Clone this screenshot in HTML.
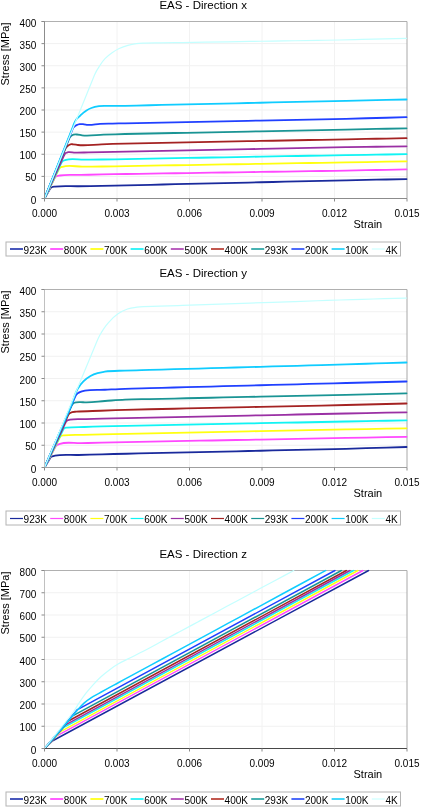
<!DOCTYPE html><html><head><meta charset="utf-8"><title>EAS stress-strain</title><style>
html,body{margin:0;padding:0;background:#fff;}body{width:421px;height:811px;overflow:hidden;}
svg{display:block;font-family:"Liberation Sans", sans-serif;will-change:transform;}
</style></head><body>
<svg width="421" height="811" viewBox="0 0 421 811">
<defs>
<clipPath id="clip0"><rect x="44.5" y="20.5" width="363.5" height="178.0"/></clipPath>
<clipPath id="clip1"><rect x="44.5" y="288.5" width="363.5" height="179.0"/></clipPath>
<clipPath id="clip2"><rect x="44.5" y="569.5" width="363.5" height="179.0"/></clipPath>
</defs>
<rect width="421" height="811" fill="#fff"/>
<text x="203.2" y="8.9" font-size="11.5" text-anchor="middle" fill="#000">EAS - Direction x</text>
<line x1="44.5" y1="176.38" x2="407.0" y2="176.38" stroke="#f1f1f1" stroke-width="1"/>
<line x1="44.5" y1="154.25" x2="407.0" y2="154.25" stroke="#f1f1f1" stroke-width="1"/>
<line x1="44.5" y1="132.12" x2="407.0" y2="132.12" stroke="#f1f1f1" stroke-width="1"/>
<line x1="44.5" y1="110.00" x2="407.0" y2="110.00" stroke="#f1f1f1" stroke-width="1"/>
<line x1="44.5" y1="87.88" x2="407.0" y2="87.88" stroke="#f1f1f1" stroke-width="1"/>
<line x1="44.5" y1="65.75" x2="407.0" y2="65.75" stroke="#f1f1f1" stroke-width="1"/>
<line x1="44.5" y1="43.62" x2="407.0" y2="43.62" stroke="#f1f1f1" stroke-width="1"/>
<line x1="117.00" y1="21.5" x2="117.00" y2="198.5" stroke="#f2f2f2" stroke-width="1"/>
<line x1="189.50" y1="21.5" x2="189.50" y2="198.5" stroke="#f2f2f2" stroke-width="1"/>
<line x1="262.00" y1="21.5" x2="262.00" y2="198.5" stroke="#f2f2f2" stroke-width="1"/>
<line x1="334.50" y1="21.5" x2="334.50" y2="198.5" stroke="#f2f2f2" stroke-width="1"/>
<line x1="41.5" y1="21.5" x2="407.0" y2="21.5" stroke="#b0b0b0" stroke-width="1"/>
<line x1="407.0" y1="21.5" x2="407.0" y2="198.5" stroke="#a8a8a8" stroke-width="1"/>
<g clip-path="url(#clip0)" fill="none" stroke-linejoin="round" stroke-linecap="round">
<path d="M44.50,198.50 L50.30,188.20 C50.67,187.55 51.50,187.28 52.20,187.00 C53.08,186.65 54.06,186.72 55.00,186.60 C62.77,185.60 70.67,186.37 78.50,186.25 C86.33,186.13 94.17,186.05 102.00,185.90 C110.13,185.75 118.27,185.53 126.40,185.34 C134.53,185.15 142.67,184.97 150.80,184.78 C158.93,184.59 167.07,184.41 175.20,184.22 C183.33,184.03 191.47,183.85 199.60,183.66 C207.73,183.47 215.87,183.29 224.00,183.10 C232.13,182.91 240.27,182.73 248.40,182.54 C256.53,182.35 264.67,182.17 272.80,181.98 C280.93,181.79 289.07,181.61 297.20,181.42 C305.33,181.23 313.47,181.05 321.60,180.86 C329.73,180.67 337.87,180.47 346.00,180.30 C352.72,180.16 359.44,180.03 366.17,179.90 C372.89,179.77 379.61,179.63 386.33,179.50 C393.06,179.37 399.78,179.23 406.50,179.10" stroke="#1a2a9c" stroke-width="1.8"/>
<path d="M44.50,198.50 L54.40,178.50 C54.86,177.57 55.70,176.82 56.60,176.30 C57.61,175.72 58.86,175.73 60.00,175.50 C66.86,174.10 74.00,175.13 81.00,174.95 C88.00,174.77 95.00,174.55 102.00,174.40 C110.13,174.23 118.27,174.15 126.40,174.02 C134.53,173.89 142.67,173.77 150.80,173.64 C158.93,173.51 167.07,173.39 175.20,173.26 C183.33,173.13 191.47,173.01 199.60,172.88 C207.73,172.75 215.87,172.63 224.00,172.50 C232.13,172.37 240.27,172.25 248.40,172.12 C256.53,171.99 264.67,171.87 272.80,171.74 C280.93,171.61 289.07,171.49 297.20,171.36 C305.33,171.23 313.47,171.11 321.60,170.98 C329.73,170.85 337.87,170.75 346.00,170.60 C352.72,170.48 359.44,170.33 366.17,170.20 C372.89,170.07 379.61,169.93 386.33,169.80 C393.06,169.67 399.78,169.53 406.50,169.40" stroke="#ff48ff" stroke-width="1.8"/>
<path d="M44.50,198.50 L58.20,170.50 C58.72,169.43 59.30,168.26 60.30,167.60 C60.95,167.17 61.76,167.04 62.50,166.80 C68.76,164.77 75.67,166.70 82.25,166.65 C88.83,166.60 95.42,166.58 102.00,166.50 C110.13,166.40 118.27,166.23 126.40,166.09 C134.53,165.95 142.67,165.82 150.80,165.68 C158.93,165.54 167.07,165.41 175.20,165.27 C183.33,165.13 191.47,165.00 199.60,164.86 C207.73,164.72 215.87,164.59 224.00,164.45 C232.13,164.31 240.27,164.18 248.40,164.04 C256.53,163.90 264.67,163.77 272.80,163.63 C280.93,163.49 289.07,163.36 297.20,163.22 C305.33,163.08 313.47,162.95 321.60,162.81 C329.73,162.67 337.87,162.54 346.00,162.40 C352.72,162.28 359.44,162.16 366.17,162.03 C372.89,161.91 379.61,161.79 386.33,161.67 C393.06,161.54 399.78,161.42 406.50,161.30" stroke="#ffff10" stroke-width="1.8"/>
<path d="M44.50,198.50 L61.00,163.50 C61.49,162.47 62.16,161.45 63.10,160.80 C63.94,160.22 65.02,160.09 66.00,159.80 C71.76,158.11 78.00,159.70 84.00,159.65 C90.00,159.60 96.00,159.57 102.00,159.50 C110.13,159.40 118.27,159.21 126.40,159.06 C134.53,158.91 142.67,158.77 150.80,158.62 C158.93,158.47 167.07,158.33 175.20,158.18 C183.33,158.03 191.47,157.89 199.60,157.74 C207.73,157.59 215.87,157.45 224.00,157.30 C232.13,157.15 240.27,157.01 248.40,156.86 C256.53,156.71 264.67,156.57 272.80,156.42 C280.93,156.27 289.07,156.13 297.20,155.98 C305.33,155.83 313.47,155.69 321.60,155.54 C329.73,155.39 337.87,155.23 346.00,155.10 C352.72,154.99 359.44,154.90 366.17,154.80 C372.89,154.70 379.61,154.60 386.33,154.50 C393.06,154.40 399.78,154.30 406.50,154.20" stroke="#10f4f4" stroke-width="1.8"/>
<path d="M44.50,198.50 L63.80,156.00 C64.29,154.92 64.73,153.67 65.70,153.00 C66.37,152.54 67.21,152.39 68.00,152.20 C70.27,151.66 72.66,152.53 75.00,152.60 C79.50,152.74 84.00,152.43 88.50,152.35 C93.00,152.27 97.50,152.19 102.00,152.10 C110.13,151.94 118.27,151.77 126.40,151.61 C134.53,151.45 142.67,151.28 150.80,151.12 C158.93,150.96 167.07,150.79 175.20,150.63 C183.33,150.47 191.47,150.30 199.60,150.14 C207.73,149.98 215.87,149.81 224.00,149.65 C232.13,149.49 240.27,149.32 248.40,149.16 C256.53,149.00 264.67,148.83 272.80,148.67 C280.93,148.51 289.07,148.34 297.20,148.18 C305.33,148.02 313.47,147.85 321.60,147.69 C329.73,147.53 337.87,147.34 346.00,147.20 C352.72,147.08 359.44,147.00 366.17,146.90 C372.89,146.80 379.61,146.70 386.33,146.60 C393.06,146.50 399.78,146.40 406.50,146.30" stroke="#9a30a4" stroke-width="1.8"/>
<path d="M44.50,198.50 L65.30,149.00 C65.78,147.86 66.57,146.82 67.50,146.00 C68.37,145.24 69.38,144.55 70.50,144.30 C71.31,144.12 72.17,144.26 73.00,144.30 C74.68,144.38 76.33,144.82 78.00,145.00 C85.79,145.85 93.67,144.53 101.50,144.30 C109.33,144.07 117.17,143.79 125.00,143.60 C133.18,143.40 141.37,143.28 149.56,143.12 C157.74,142.96 165.93,142.80 174.11,142.64 C182.30,142.49 190.48,142.33 198.67,142.17 C206.85,142.01 215.04,141.85 223.22,141.69 C231.41,141.53 239.59,141.37 247.78,141.21 C255.96,141.05 264.15,140.89 272.33,140.73 C280.52,140.57 288.70,140.41 296.89,140.26 C305.07,140.10 313.26,139.94 321.44,139.78 C329.63,139.62 337.81,139.45 346.00,139.30 C352.72,139.17 359.44,139.06 366.17,138.93 C372.89,138.81 379.61,138.69 386.33,138.57 C393.06,138.44 399.78,138.32 406.50,138.20" stroke="#a42222" stroke-width="1.8"/>
<path d="M44.50,198.50 L69.20,138.60 C69.59,137.65 70.23,136.78 71.00,136.10 C71.72,135.47 72.59,134.99 73.50,134.70 C74.61,134.35 75.83,134.46 77.00,134.50 C78.69,134.55 80.32,135.09 82.00,135.30 C89.12,136.18 96.33,134.87 103.50,134.65 C110.67,134.43 117.83,134.18 125.00,134.00 C133.18,133.79 141.37,133.67 149.56,133.51 C157.74,133.35 165.93,133.19 174.11,133.02 C182.30,132.86 190.48,132.70 198.67,132.53 C206.85,132.37 215.04,132.21 223.22,132.04 C231.41,131.88 239.59,131.72 247.78,131.56 C255.96,131.39 264.15,131.23 272.33,131.07 C280.52,130.90 288.70,130.74 296.89,130.58 C305.07,130.41 313.26,130.25 321.44,130.09 C329.63,129.93 337.81,129.77 346.00,129.60 C352.72,129.46 359.44,129.31 366.17,129.17 C372.89,129.02 379.61,128.88 386.33,128.73 C393.06,128.59 399.78,128.44 406.50,128.30" stroke="#1a9494" stroke-width="1.8"/>
<path d="M44.50,198.50 L72.90,128.40 C73.21,127.63 73.88,127.05 74.50,126.50 C75.13,125.94 75.85,125.48 76.60,125.10 C77.57,124.61 78.63,124.27 79.70,124.10 C81.12,123.87 82.57,124.16 84.00,124.30 C85.21,124.42 86.39,124.69 87.60,124.80 C91.73,125.17 95.86,124.01 100.00,123.80 C104.16,123.59 108.33,123.63 112.50,123.55 C116.67,123.47 120.83,123.38 125.00,123.30 C133.19,123.14 141.37,122.97 149.56,122.80 C157.74,122.63 165.93,122.47 174.11,122.30 C182.30,122.13 190.48,121.97 198.67,121.80 C206.85,121.63 215.04,121.47 223.22,121.30 C231.41,121.13 239.59,120.97 247.78,120.80 C255.96,120.63 264.15,120.47 272.33,120.30 C280.52,120.13 288.70,119.97 296.89,119.80 C305.07,119.63 313.26,119.47 321.44,119.30 C329.63,119.13 337.82,118.99 346.00,118.80 C352.72,118.64 359.44,118.44 366.17,118.27 C372.89,118.09 379.61,117.91 386.33,117.73 C393.06,117.56 399.78,117.38 406.50,117.20" stroke="#2040ff" stroke-width="1.8"/>
<path d="M44.50,198.50 L72.60,127.50 C73.24,125.87 73.73,124.17 74.50,122.60 C75.11,121.35 75.74,120.09 76.60,119.00 C77.56,117.77 78.86,116.86 80.00,115.80 C81.16,114.72 82.27,113.59 83.50,112.60 C84.46,111.82 85.45,111.06 86.50,110.40 C88.04,109.43 89.70,108.66 91.40,108.00 C93.84,107.06 96.42,106.51 99.00,106.10 C103.28,105.42 107.67,106.00 112.00,105.95 C116.33,105.90 120.67,105.87 125.00,105.80 C133.19,105.67 141.37,105.43 149.56,105.24 C157.74,105.06 165.93,104.87 174.11,104.69 C182.30,104.50 190.48,104.32 198.67,104.13 C206.85,103.95 215.04,103.76 223.22,103.58 C231.41,103.39 239.59,103.21 247.78,103.02 C255.96,102.84 264.15,102.65 272.33,102.47 C280.52,102.28 288.70,102.10 296.89,101.91 C305.07,101.73 313.26,101.54 321.44,101.36 C329.63,101.17 337.81,100.98 346.00,100.80 C352.72,100.65 359.44,100.51 366.17,100.37 C372.89,100.22 379.61,100.08 386.33,99.93 C393.06,99.79 399.78,99.64 406.50,99.50" stroke="#10ccff" stroke-width="1.8"/>
<path d="M44.50,198.50 L94.50,75.00 C95.82,71.75 97.68,68.73 99.60,65.80 C101.24,63.29 102.94,60.78 105.00,58.60 C107.12,56.37 109.58,54.46 112.10,52.70 C114.35,51.13 116.72,49.69 119.20,48.50 C121.98,47.16 124.92,46.13 127.90,45.30 C130.65,44.53 133.47,43.97 136.30,43.60 C139.18,43.23 142.10,43.22 145.00,43.10 C150.00,42.89 155.00,42.97 160.00,42.90 C167.50,42.79 175.00,42.66 182.50,42.54 C190.00,42.42 197.50,42.30 205.00,42.17 C212.50,42.05 220.00,41.93 227.50,41.81 C235.00,41.69 242.50,41.57 250.00,41.45 C257.50,41.33 265.00,41.21 272.50,41.09 C280.00,40.97 287.50,40.85 295.00,40.73 C302.50,40.60 310.00,40.48 317.50,40.36 C325.00,40.24 332.50,40.16 340.00,40.00 C347.39,39.85 354.78,39.62 362.17,39.43 C369.56,39.24 376.94,39.06 384.33,38.87 C391.72,38.68 399.11,38.49 406.50,38.30" stroke="#c4ffff" stroke-width="1.2"/>
</g>
<line x1="44.5" y1="21.5" x2="44.5" y2="198.5" stroke="#8c8c8c" stroke-width="1"/>
<line x1="44.5" y1="198.5" x2="407.0" y2="198.5" stroke="#8c8c8c" stroke-width="1"/>
<line x1="41.5" y1="198.50" x2="44.5" y2="198.50" stroke="#8a8a8a" stroke-width="1"/>
<text x="36.3" y="203.60" font-size="10" text-anchor="end" fill="#000">0</text>
<line x1="41.5" y1="176.38" x2="44.5" y2="176.38" stroke="#8a8a8a" stroke-width="1"/>
<text x="36.3" y="181.47" font-size="10" text-anchor="end" fill="#000">50</text>
<line x1="41.5" y1="154.25" x2="44.5" y2="154.25" stroke="#8a8a8a" stroke-width="1"/>
<text x="36.3" y="159.35" font-size="10" text-anchor="end" fill="#000">100</text>
<line x1="41.5" y1="132.12" x2="44.5" y2="132.12" stroke="#8a8a8a" stroke-width="1"/>
<text x="36.3" y="137.22" font-size="10" text-anchor="end" fill="#000">150</text>
<line x1="41.5" y1="110.00" x2="44.5" y2="110.00" stroke="#8a8a8a" stroke-width="1"/>
<text x="36.3" y="115.10" font-size="10" text-anchor="end" fill="#000">200</text>
<line x1="41.5" y1="87.88" x2="44.5" y2="87.88" stroke="#8a8a8a" stroke-width="1"/>
<text x="36.3" y="92.97" font-size="10" text-anchor="end" fill="#000">250</text>
<line x1="41.5" y1="65.75" x2="44.5" y2="65.75" stroke="#8a8a8a" stroke-width="1"/>
<text x="36.3" y="70.85" font-size="10" text-anchor="end" fill="#000">300</text>
<line x1="41.5" y1="43.62" x2="44.5" y2="43.62" stroke="#8a8a8a" stroke-width="1"/>
<text x="36.3" y="48.73" font-size="10" text-anchor="end" fill="#000">350</text>
<line x1="41.5" y1="21.50" x2="44.5" y2="21.50" stroke="#8a8a8a" stroke-width="1"/>
<text x="36.3" y="26.60" font-size="10" text-anchor="end" fill="#000">400</text>
<line x1="44.50" y1="198.5" x2="44.50" y2="201.5" stroke="#8a8a8a" stroke-width="1"/>
<text x="44.50" y="216.80" font-size="10" text-anchor="middle" fill="#000">0.000</text>
<line x1="117.00" y1="198.5" x2="117.00" y2="201.5" stroke="#8a8a8a" stroke-width="1"/>
<text x="117.00" y="216.80" font-size="10" text-anchor="middle" fill="#000">0.003</text>
<line x1="189.50" y1="198.5" x2="189.50" y2="201.5" stroke="#8a8a8a" stroke-width="1"/>
<text x="189.50" y="216.80" font-size="10" text-anchor="middle" fill="#000">0.006</text>
<line x1="262.00" y1="198.5" x2="262.00" y2="201.5" stroke="#8a8a8a" stroke-width="1"/>
<text x="262.00" y="216.80" font-size="10" text-anchor="middle" fill="#000">0.009</text>
<line x1="334.50" y1="198.5" x2="334.50" y2="201.5" stroke="#8a8a8a" stroke-width="1"/>
<text x="334.50" y="216.80" font-size="10" text-anchor="middle" fill="#000">0.012</text>
<line x1="407.00" y1="198.5" x2="407.00" y2="201.5" stroke="#8a8a8a" stroke-width="1"/>
<text x="407.00" y="216.80" font-size="10" text-anchor="middle" fill="#000">0.015</text>
<text x="353.5" y="228.00" font-size="11" fill="#000">Strain</text>
<text transform="translate(8.7,22.50) rotate(-90)" font-size="11" text-anchor="end" fill="#000">Stress [MPa]</text>
<rect x="6" y="242.00" width="394.5" height="14" fill="#fff" stroke="#b4b4b4" stroke-width="1"/>
<line x1="10.00" y1="249.00" x2="23.00" y2="249.00" stroke="#3444b4" stroke-width="1.8"/>
<text x="23.60" y="254.00" font-size="10" fill="#000">923K</text>
<line x1="50.20" y1="249.00" x2="63.20" y2="249.00" stroke="#ff4cff" stroke-width="1.8"/>
<text x="63.80" y="254.00" font-size="10" fill="#000">800K</text>
<line x1="90.40" y1="249.00" x2="103.40" y2="249.00" stroke="#ffff18" stroke-width="1.8"/>
<text x="104.00" y="254.00" font-size="10" fill="#000">700K</text>
<line x1="130.60" y1="249.00" x2="143.60" y2="249.00" stroke="#24f2f6" stroke-width="1.8"/>
<text x="144.20" y="254.00" font-size="10" fill="#000">600K</text>
<line x1="170.80" y1="249.00" x2="183.80" y2="249.00" stroke="#b450b8" stroke-width="1.8"/>
<text x="184.40" y="254.00" font-size="10" fill="#000">500K</text>
<line x1="211.00" y1="249.00" x2="224.00" y2="249.00" stroke="#bc463c" stroke-width="1.8"/>
<text x="224.60" y="254.00" font-size="10" fill="#000">400K</text>
<line x1="251.20" y1="249.00" x2="264.20" y2="249.00" stroke="#34aaaa" stroke-width="1.8"/>
<text x="264.80" y="254.00" font-size="10" fill="#000">293K</text>
<line x1="291.40" y1="249.00" x2="304.40" y2="249.00" stroke="#3a5cfa" stroke-width="1.8"/>
<text x="305.00" y="254.00" font-size="10" fill="#000">200K</text>
<line x1="331.60" y1="249.00" x2="344.60" y2="249.00" stroke="#30d4fa" stroke-width="1.8"/>
<text x="345.20" y="254.00" font-size="10" fill="#000">100K</text>
<line x1="371.80" y1="249.00" x2="384.80" y2="249.00" stroke="#ccffff" stroke-width="1.2"/>
<text x="385.40" y="254.00" font-size="10" fill="#000">4K</text>
<text x="203.2" y="276.9" font-size="11.5" text-anchor="middle" fill="#000">EAS - Direction y</text>
<line x1="44.5" y1="445.25" x2="407.0" y2="445.25" stroke="#f1f1f1" stroke-width="1"/>
<line x1="44.5" y1="423.00" x2="407.0" y2="423.00" stroke="#f1f1f1" stroke-width="1"/>
<line x1="44.5" y1="400.75" x2="407.0" y2="400.75" stroke="#f1f1f1" stroke-width="1"/>
<line x1="44.5" y1="378.50" x2="407.0" y2="378.50" stroke="#f1f1f1" stroke-width="1"/>
<line x1="44.5" y1="356.25" x2="407.0" y2="356.25" stroke="#f1f1f1" stroke-width="1"/>
<line x1="44.5" y1="334.00" x2="407.0" y2="334.00" stroke="#f1f1f1" stroke-width="1"/>
<line x1="44.5" y1="311.75" x2="407.0" y2="311.75" stroke="#f1f1f1" stroke-width="1"/>
<line x1="117.00" y1="289.5" x2="117.00" y2="467.5" stroke="#f2f2f2" stroke-width="1"/>
<line x1="189.50" y1="289.5" x2="189.50" y2="467.5" stroke="#f2f2f2" stroke-width="1"/>
<line x1="262.00" y1="289.5" x2="262.00" y2="467.5" stroke="#f2f2f2" stroke-width="1"/>
<line x1="334.50" y1="289.5" x2="334.50" y2="467.5" stroke="#f2f2f2" stroke-width="1"/>
<line x1="41.5" y1="289.5" x2="407.0" y2="289.5" stroke="#b0b0b0" stroke-width="1"/>
<line x1="407.0" y1="289.5" x2="407.0" y2="467.5" stroke="#a8a8a8" stroke-width="1"/>
<g clip-path="url(#clip1)" fill="none" stroke-linejoin="round" stroke-linecap="round">
<path d="M44.50,467.50 L50.50,457.50 C50.90,456.83 51.78,456.60 52.50,456.30 C53.29,455.97 54.16,455.88 55.00,455.70 C62.66,454.03 70.67,455.23 78.50,455.00 C86.33,454.77 94.17,454.51 102.00,454.30 C110.13,454.09 118.27,453.93 126.40,453.75 C134.53,453.57 142.67,453.38 150.80,453.20 C158.93,453.02 167.07,452.83 175.20,452.65 C183.33,452.47 191.47,452.28 199.60,452.10 C207.73,451.92 215.87,451.73 224.00,451.55 C232.13,451.37 240.27,451.18 248.40,451.00 C256.53,450.82 264.67,450.63 272.80,450.45 C280.93,450.27 289.07,450.08 297.20,449.90 C305.33,449.72 313.47,449.53 321.60,449.35 C329.73,449.17 337.87,449.02 346.00,448.80 C352.72,448.62 359.44,448.40 366.17,448.20 C372.89,448.00 379.61,447.80 386.33,447.60 C393.06,447.40 399.78,447.20 406.50,447.00" stroke="#1a2a9c" stroke-width="1.8"/>
<path d="M44.50,467.50 L55.00,447.50 C55.50,446.56 56.14,445.64 57.00,445.00 C57.86,444.36 58.98,444.15 60.00,443.80 C66.62,441.50 74.00,443.40 81.00,443.20 C88.00,443.00 95.00,442.77 102.00,442.60 C110.13,442.40 118.27,442.29 126.40,442.13 C134.53,441.97 142.67,441.82 150.80,441.66 C158.93,441.50 167.07,441.35 175.20,441.19 C183.33,441.03 191.47,440.88 199.60,440.72 C207.73,440.56 215.87,440.41 224.00,440.25 C232.13,440.09 240.27,439.94 248.40,439.78 C256.53,439.62 264.67,439.47 272.80,439.31 C280.93,439.15 289.07,439.00 297.20,438.84 C305.33,438.68 313.47,438.53 321.60,438.37 C329.73,438.21 337.87,438.05 346.00,437.90 C352.72,437.77 359.44,437.66 366.17,437.53 C372.89,437.41 379.61,437.29 386.33,437.17 C393.06,437.04 399.78,436.92 406.50,436.80" stroke="#ff48ff" stroke-width="1.8"/>
<path d="M44.50,467.50 L59.50,438.00 C59.93,437.16 60.47,436.26 61.30,435.80 C62.09,435.36 63.10,435.52 64.00,435.40 C70.28,434.56 76.67,435.03 83.00,434.85 C89.33,434.67 95.67,434.46 102.00,434.30 C110.13,434.10 118.27,433.97 126.40,433.81 C134.53,433.65 142.67,433.48 150.80,433.32 C158.93,433.16 167.07,432.99 175.20,432.83 C183.33,432.67 191.47,432.50 199.60,432.34 C207.73,432.18 215.87,432.01 224.00,431.85 C232.13,431.69 240.27,431.52 248.40,431.36 C256.53,431.20 264.67,431.03 272.80,430.87 C280.93,430.71 289.07,430.54 297.20,430.38 C305.33,430.22 313.47,430.05 321.60,429.89 C329.73,429.73 337.87,429.55 346.00,429.40 C352.72,429.27 359.44,429.16 366.17,429.03 C372.89,428.91 379.61,428.79 386.33,428.67 C393.06,428.54 399.78,428.42 406.50,428.30" stroke="#ffff10" stroke-width="1.8"/>
<path d="M44.50,467.50 L63.00,430.00 C63.41,429.17 63.97,428.31 64.80,427.90 C65.46,427.57 66.27,427.69 67.00,427.60 C72.79,426.88 78.67,427.20 84.50,427.00 C90.33,426.80 96.17,426.57 102.00,426.40 C110.13,426.17 118.27,426.07 126.40,425.91 C134.53,425.75 142.67,425.58 150.80,425.42 C158.93,425.26 167.07,425.09 175.20,424.93 C183.33,424.77 191.47,424.60 199.60,424.44 C207.73,424.28 215.87,424.11 224.00,423.95 C232.13,423.79 240.27,423.62 248.40,423.46 C256.53,423.30 264.67,423.13 272.80,422.97 C280.93,422.81 289.07,422.64 297.20,422.48 C305.33,422.32 313.47,422.15 321.60,421.99 C329.73,421.83 337.87,421.65 346.00,421.50 C352.72,421.37 359.44,421.26 366.17,421.13 C372.89,421.01 379.61,420.89 386.33,420.77 C393.06,420.64 399.78,420.52 406.50,420.40" stroke="#10f4f4" stroke-width="1.8"/>
<path d="M44.50,467.50 L65.30,423.00 C65.76,422.01 66.37,420.98 67.30,420.40 C68.09,419.91 69.09,419.90 70.00,419.70 C75.21,418.53 80.67,419.33 86.00,419.15 C91.33,418.97 96.67,418.75 102.00,418.60 C110.13,418.36 118.27,418.26 126.40,418.09 C134.53,417.92 142.67,417.75 150.80,417.58 C158.93,417.41 167.07,417.24 175.20,417.07 C183.33,416.90 191.47,416.73 199.60,416.56 C207.73,416.39 215.87,416.22 224.00,416.05 C232.13,415.88 240.27,415.71 248.40,415.54 C256.53,415.37 264.67,415.20 272.80,415.03 C280.93,414.86 289.07,414.69 297.20,414.52 C305.33,414.35 313.47,414.18 321.60,414.01 C329.73,413.84 337.87,413.67 346.00,413.50 C352.72,413.36 359.44,413.23 366.17,413.10 C372.89,412.97 379.61,412.83 386.33,412.70 C393.06,412.57 399.78,412.43 406.50,412.30" stroke="#9a30a4" stroke-width="1.8"/>
<path d="M44.50,467.50 L67.60,416.30 C68.08,415.23 68.69,414.15 69.60,413.40 C70.35,412.78 71.28,412.40 72.20,412.10 C73.51,411.68 74.93,411.82 76.30,411.70 C84.39,410.98 92.53,411.07 100.65,410.75 C108.77,410.43 116.88,410.05 125.00,409.80 C133.18,409.55 141.37,409.44 149.56,409.27 C157.74,409.09 165.93,408.91 174.11,408.73 C182.30,408.56 190.48,408.38 198.67,408.20 C206.85,408.02 215.04,407.84 223.22,407.67 C231.41,407.49 239.59,407.31 247.78,407.13 C255.96,406.96 264.15,406.78 272.33,406.60 C280.52,406.42 288.70,406.24 296.89,406.07 C305.07,405.89 313.26,405.71 321.44,405.53 C329.63,405.36 337.82,405.19 346.00,405.00 C352.72,404.84 359.44,404.67 366.17,404.50 C372.89,404.33 379.61,404.17 386.33,404.00 C393.06,403.83 399.78,403.67 406.50,403.50" stroke="#a42222" stroke-width="1.8"/>
<path d="M44.50,467.50 L71.40,406.20 C71.87,405.12 72.45,403.99 73.40,403.30 C74.23,402.70 75.30,402.52 76.30,402.30 C77.70,402.00 79.17,402.08 80.60,402.10 C82.04,402.12 83.46,402.34 84.90,402.40 C91.59,402.70 98.27,401.47 104.95,401.00 C111.63,400.53 118.31,399.92 125.00,399.60 C133.18,399.21 141.37,399.24 149.56,399.07 C157.74,398.89 165.93,398.71 174.11,398.53 C182.30,398.36 190.48,398.18 198.67,398.00 C206.85,397.82 215.04,397.64 223.22,397.47 C231.41,397.29 239.59,397.11 247.78,396.93 C255.96,396.76 264.15,396.58 272.33,396.40 C280.52,396.22 288.70,396.04 296.89,395.87 C305.07,395.69 313.26,395.51 321.44,395.33 C329.63,395.16 337.82,394.99 346.00,394.80 C352.72,394.64 359.44,394.47 366.17,394.30 C372.89,394.13 379.61,393.97 386.33,393.80 C393.06,393.63 399.78,393.47 406.50,393.30" stroke="#1a9494" stroke-width="1.8"/>
<path d="M44.50,467.50 L75.40,396.20 C75.87,395.11 76.69,394.16 77.60,393.40 C78.45,392.69 79.48,392.22 80.50,391.80 C81.90,391.22 83.42,391.01 84.90,390.70 C91.45,389.31 98.27,390.07 104.95,389.75 C111.63,389.43 118.31,389.05 125.00,388.80 C133.18,388.49 141.37,388.37 149.56,388.16 C157.74,387.94 165.93,387.73 174.11,387.51 C182.30,387.30 190.48,387.08 198.67,386.87 C206.85,386.65 215.04,386.44 223.22,386.22 C231.41,386.01 239.59,385.79 247.78,385.58 C255.96,385.36 264.15,385.15 272.33,384.93 C280.52,384.72 288.70,384.50 296.89,384.29 C305.07,384.07 313.26,383.86 321.44,383.64 C329.63,383.43 337.81,383.21 346.00,383.00 C352.72,382.83 359.44,382.67 366.17,382.50 C372.89,382.33 379.61,382.17 386.33,382.00 C393.06,381.83 399.78,381.67 406.50,381.50" stroke="#2040ff" stroke-width="1.8"/>
<path d="M44.50,467.50 L70.50,407.00 C71.42,404.87 72.16,402.66 73.00,400.50 C74.53,396.59 75.54,392.41 77.70,388.80 C79.30,386.13 81.18,383.59 83.40,381.40 C85.52,379.31 87.90,377.45 90.50,376.00 C92.73,374.75 95.15,373.83 97.60,373.10 C99.94,372.41 102.38,372.08 104.80,371.70 C111.46,370.66 118.26,370.89 125.00,370.60 C133.18,370.25 141.37,370.14 149.56,369.91 C157.74,369.68 165.93,369.45 174.11,369.22 C182.30,368.99 190.48,368.76 198.67,368.53 C206.85,368.30 215.04,368.07 223.22,367.84 C231.41,367.61 239.59,367.39 247.78,367.16 C255.96,366.93 264.15,366.70 272.33,366.47 C280.52,366.24 288.70,366.01 296.89,365.78 C305.07,365.55 313.26,365.32 321.44,365.09 C329.63,364.86 337.82,364.64 346.00,364.40 C352.72,364.20 359.44,363.98 366.17,363.77 C372.89,363.56 379.61,363.34 386.33,363.13 C393.06,362.92 399.78,362.71 406.50,362.50" stroke="#10ccff" stroke-width="1.8"/>
<path d="M44.50,467.50 L95.00,346.00 C96.43,342.57 97.77,339.09 99.50,335.80 C100.86,333.22 102.33,330.69 104.00,328.30 C105.39,326.32 106.90,324.41 108.50,322.60 C111.36,319.37 114.42,316.22 118.00,313.80 C120.94,311.81 124.14,310.14 127.50,309.00 C130.56,307.97 133.81,307.58 137.00,307.10 C144.59,305.95 152.33,306.48 160.00,306.20 C167.50,305.92 175.00,305.68 182.50,305.43 C190.00,305.17 197.50,304.91 205.00,304.65 C212.50,304.39 220.00,304.13 227.50,303.88 C235.00,303.62 242.50,303.36 250.00,303.10 C257.50,302.84 265.00,302.58 272.50,302.32 C280.00,302.07 287.50,301.81 295.00,301.55 C302.50,301.29 310.00,301.03 317.50,300.77 C325.00,300.52 332.50,300.24 340.00,300.00 C347.39,299.76 354.78,299.56 362.17,299.33 C369.56,299.11 376.94,298.89 384.33,298.67 C391.72,298.44 399.11,298.22 406.50,298.00" stroke="#c4ffff" stroke-width="1.2"/>
</g>
<line x1="44.5" y1="289.5" x2="44.5" y2="467.5" stroke="#c0c0c0" stroke-width="1"/>
<line x1="44.5" y1="467.5" x2="407.0" y2="467.5" stroke="#a0a0a0" stroke-width="1"/>
<line x1="41.5" y1="467.50" x2="44.5" y2="467.50" stroke="#8a8a8a" stroke-width="1"/>
<text x="36.3" y="472.60" font-size="10" text-anchor="end" fill="#000">0</text>
<line x1="41.5" y1="445.25" x2="44.5" y2="445.25" stroke="#8a8a8a" stroke-width="1"/>
<text x="36.3" y="450.35" font-size="10" text-anchor="end" fill="#000">50</text>
<line x1="41.5" y1="423.00" x2="44.5" y2="423.00" stroke="#8a8a8a" stroke-width="1"/>
<text x="36.3" y="428.10" font-size="10" text-anchor="end" fill="#000">100</text>
<line x1="41.5" y1="400.75" x2="44.5" y2="400.75" stroke="#8a8a8a" stroke-width="1"/>
<text x="36.3" y="405.85" font-size="10" text-anchor="end" fill="#000">150</text>
<line x1="41.5" y1="378.50" x2="44.5" y2="378.50" stroke="#8a8a8a" stroke-width="1"/>
<text x="36.3" y="383.60" font-size="10" text-anchor="end" fill="#000">200</text>
<line x1="41.5" y1="356.25" x2="44.5" y2="356.25" stroke="#8a8a8a" stroke-width="1"/>
<text x="36.3" y="361.35" font-size="10" text-anchor="end" fill="#000">250</text>
<line x1="41.5" y1="334.00" x2="44.5" y2="334.00" stroke="#8a8a8a" stroke-width="1"/>
<text x="36.3" y="339.10" font-size="10" text-anchor="end" fill="#000">300</text>
<line x1="41.5" y1="311.75" x2="44.5" y2="311.75" stroke="#8a8a8a" stroke-width="1"/>
<text x="36.3" y="316.85" font-size="10" text-anchor="end" fill="#000">350</text>
<line x1="41.5" y1="289.50" x2="44.5" y2="289.50" stroke="#8a8a8a" stroke-width="1"/>
<text x="36.3" y="294.60" font-size="10" text-anchor="end" fill="#000">400</text>
<line x1="44.50" y1="467.5" x2="44.50" y2="470.5" stroke="#8a8a8a" stroke-width="1"/>
<text x="44.50" y="485.80" font-size="10" text-anchor="middle" fill="#000">0.000</text>
<line x1="117.00" y1="467.5" x2="117.00" y2="470.5" stroke="#8a8a8a" stroke-width="1"/>
<text x="117.00" y="485.80" font-size="10" text-anchor="middle" fill="#000">0.003</text>
<line x1="189.50" y1="467.5" x2="189.50" y2="470.5" stroke="#8a8a8a" stroke-width="1"/>
<text x="189.50" y="485.80" font-size="10" text-anchor="middle" fill="#000">0.006</text>
<line x1="262.00" y1="467.5" x2="262.00" y2="470.5" stroke="#8a8a8a" stroke-width="1"/>
<text x="262.00" y="485.80" font-size="10" text-anchor="middle" fill="#000">0.009</text>
<line x1="334.50" y1="467.5" x2="334.50" y2="470.5" stroke="#8a8a8a" stroke-width="1"/>
<text x="334.50" y="485.80" font-size="10" text-anchor="middle" fill="#000">0.012</text>
<line x1="407.00" y1="467.5" x2="407.00" y2="470.5" stroke="#8a8a8a" stroke-width="1"/>
<text x="407.00" y="485.80" font-size="10" text-anchor="middle" fill="#000">0.015</text>
<text x="353.5" y="497.00" font-size="11" fill="#000">Strain</text>
<text transform="translate(8.7,290.50) rotate(-90)" font-size="11" text-anchor="end" fill="#000">Stress [MPa]</text>
<rect x="6" y="511.00" width="394.5" height="14" fill="#fff" stroke="#b4b4b4" stroke-width="1"/>
<line x1="10.00" y1="518.50" x2="23.00" y2="518.50" stroke="#1a2a9c" stroke-width="1.2"/>
<text x="23.60" y="523.00" font-size="10" fill="#000">923K</text>
<line x1="50.20" y1="518.50" x2="63.20" y2="518.50" stroke="#ff48ff" stroke-width="1.2"/>
<text x="63.80" y="523.00" font-size="10" fill="#000">800K</text>
<line x1="90.40" y1="518.50" x2="103.40" y2="518.50" stroke="#ffff10" stroke-width="1.2"/>
<text x="104.00" y="523.00" font-size="10" fill="#000">700K</text>
<line x1="130.60" y1="518.50" x2="143.60" y2="518.50" stroke="#10f4f4" stroke-width="1.2"/>
<text x="144.20" y="523.00" font-size="10" fill="#000">600K</text>
<line x1="170.80" y1="518.50" x2="183.80" y2="518.50" stroke="#9a30a4" stroke-width="1.2"/>
<text x="184.40" y="523.00" font-size="10" fill="#000">500K</text>
<line x1="211.00" y1="518.50" x2="224.00" y2="518.50" stroke="#a42222" stroke-width="1.2"/>
<text x="224.60" y="523.00" font-size="10" fill="#000">400K</text>
<line x1="251.20" y1="518.50" x2="264.20" y2="518.50" stroke="#1a9494" stroke-width="1.2"/>
<text x="264.80" y="523.00" font-size="10" fill="#000">293K</text>
<line x1="291.40" y1="518.50" x2="304.40" y2="518.50" stroke="#2040ff" stroke-width="1.2"/>
<text x="305.00" y="523.00" font-size="10" fill="#000">200K</text>
<line x1="331.60" y1="518.50" x2="344.60" y2="518.50" stroke="#10ccff" stroke-width="1.2"/>
<text x="345.20" y="523.00" font-size="10" fill="#000">100K</text>
<line x1="371.80" y1="518.50" x2="384.80" y2="518.50" stroke="#c4ffff" stroke-width="1.2"/>
<text x="385.40" y="523.00" font-size="10" fill="#000">4K</text>
<text x="203.2" y="557.9" font-size="11.5" text-anchor="middle" fill="#000">EAS - Direction z</text>
<line x1="44.5" y1="726.25" x2="407.0" y2="726.25" stroke="#f1f1f1" stroke-width="1"/>
<line x1="44.5" y1="704.00" x2="407.0" y2="704.00" stroke="#f1f1f1" stroke-width="1"/>
<line x1="44.5" y1="681.75" x2="407.0" y2="681.75" stroke="#f1f1f1" stroke-width="1"/>
<line x1="44.5" y1="659.50" x2="407.0" y2="659.50" stroke="#f1f1f1" stroke-width="1"/>
<line x1="44.5" y1="637.25" x2="407.0" y2="637.25" stroke="#f1f1f1" stroke-width="1"/>
<line x1="44.5" y1="615.00" x2="407.0" y2="615.00" stroke="#f1f1f1" stroke-width="1"/>
<line x1="44.5" y1="592.75" x2="407.0" y2="592.75" stroke="#f1f1f1" stroke-width="1"/>
<line x1="117.00" y1="570.5" x2="117.00" y2="748.5" stroke="#f2f2f2" stroke-width="1"/>
<line x1="189.50" y1="570.5" x2="189.50" y2="748.5" stroke="#f2f2f2" stroke-width="1"/>
<line x1="262.00" y1="570.5" x2="262.00" y2="748.5" stroke="#f2f2f2" stroke-width="1"/>
<line x1="334.50" y1="570.5" x2="334.50" y2="748.5" stroke="#f2f2f2" stroke-width="1"/>
<line x1="41.5" y1="570.5" x2="407.0" y2="570.5" stroke="#b0b0b0" stroke-width="1"/>
<line x1="407.0" y1="570.5" x2="407.0" y2="748.5" stroke="#a8a8a8" stroke-width="1"/>
<g clip-path="url(#clip2)" fill="none" stroke-linejoin="round" stroke-linecap="round">
<path d="M44.50,748.50 L52.70,740.77 L368.60,570.50" stroke="#1a2a9c" stroke-width="1.5"/>
<path d="M44.50,748.50 L56.30,736.08 L362.90,570.50" stroke="#ff48ff" stroke-width="1.5"/>
<path d="M44.50,748.50 L60.50,731.69 L357.90,570.50" stroke="#ffff10" stroke-width="1.5"/>
<path d="M44.50,748.50 L63.40,727.71 L353.60,570.50" stroke="#10f4f4" stroke-width="1.5"/>
<path d="M44.50,748.50 L65.50,724.80 L350.00,570.50" stroke="#9a30a4" stroke-width="1.5"/>
<path d="M44.50,748.50 L68.40,720.99 L346.40,570.50" stroke="#a42222" stroke-width="1.5"/>
<path d="M44.50,748.50 L72.70,715.85 L341.40,570.50" stroke="#1a9494" stroke-width="1.5"/>
<path d="M44.50,748.50 L77.00,709.91 L335.00,570.50" stroke="#2040ff" stroke-width="1.5"/>
<path d="M44.50,748.50 L77.10,710.50 C79.37,707.85 81.68,705.20 84.30,702.90 C86.52,700.95 88.92,699.20 91.40,697.60 C93.68,696.12 96.13,694.93 98.50,693.60 C100.87,692.27 103.22,690.92 105.60,689.60 C109.64,687.36 113.73,685.20 117.80,683.00 C121.87,680.80 125.93,678.60 130.00,676.40 C137.25,672.48 144.50,668.56 151.74,664.63 C158.99,660.71 166.24,656.79 173.49,652.87 C180.74,648.94 187.99,645.02 195.23,641.10 C202.48,637.18 209.73,633.26 216.98,629.33 C224.23,625.41 231.47,621.49 238.72,617.57 C245.97,613.64 253.22,609.72 260.47,605.80 C267.71,601.88 274.96,597.96 282.21,594.03 C289.46,590.11 296.71,586.19 303.96,582.27 C311.20,578.34 318.45,574.42 325.70,570.50" stroke="#10ccff" stroke-width="1.5"/>
<path d="M44.50,748.50 L73.00,712.50 C75.32,709.56 76.91,706.11 79.00,703.00 C81.24,699.67 83.53,696.36 86.00,693.20 C88.32,690.24 90.76,687.37 93.30,684.60 C95.77,681.91 98.31,679.27 101.00,676.80 C103.86,674.18 106.87,671.69 110.00,669.40 C112.74,667.40 115.57,665.51 118.50,663.80 C121.26,662.19 124.16,660.85 127.00,659.40 C132.40,656.64 137.92,654.10 143.30,651.30 C148.92,648.37 154.42,645.22 160.00,642.20 C166.36,638.76 172.74,635.37 179.11,631.96 C185.49,628.54 191.86,625.13 198.23,621.71 C204.60,618.30 210.97,614.89 217.34,611.47 C223.71,608.06 230.09,604.64 236.46,601.23 C242.83,597.81 249.20,594.40 255.57,590.99 C261.94,587.57 268.31,584.16 274.69,580.74 C281.06,577.33 287.43,573.91 293.80,570.50" stroke="#c4ffff" stroke-width="1.2"/>
</g>
<line x1="44.5" y1="570.5" x2="44.5" y2="748.5" stroke="#c0c0c0" stroke-width="1"/>
<line x1="44.5" y1="748.5" x2="407.0" y2="748.5" stroke="#484848" stroke-width="1"/>
<line x1="41.5" y1="748.50" x2="44.5" y2="748.50" stroke="#8a8a8a" stroke-width="1"/>
<text x="36.3" y="753.60" font-size="10" text-anchor="end" fill="#000">0</text>
<line x1="41.5" y1="726.25" x2="44.5" y2="726.25" stroke="#8a8a8a" stroke-width="1"/>
<text x="36.3" y="731.35" font-size="10" text-anchor="end" fill="#000">100</text>
<line x1="41.5" y1="704.00" x2="44.5" y2="704.00" stroke="#8a8a8a" stroke-width="1"/>
<text x="36.3" y="709.10" font-size="10" text-anchor="end" fill="#000">200</text>
<line x1="41.5" y1="681.75" x2="44.5" y2="681.75" stroke="#8a8a8a" stroke-width="1"/>
<text x="36.3" y="686.85" font-size="10" text-anchor="end" fill="#000">300</text>
<line x1="41.5" y1="659.50" x2="44.5" y2="659.50" stroke="#8a8a8a" stroke-width="1"/>
<text x="36.3" y="664.60" font-size="10" text-anchor="end" fill="#000">400</text>
<line x1="41.5" y1="637.25" x2="44.5" y2="637.25" stroke="#8a8a8a" stroke-width="1"/>
<text x="36.3" y="642.35" font-size="10" text-anchor="end" fill="#000">500</text>
<line x1="41.5" y1="615.00" x2="44.5" y2="615.00" stroke="#8a8a8a" stroke-width="1"/>
<text x="36.3" y="620.10" font-size="10" text-anchor="end" fill="#000">600</text>
<line x1="41.5" y1="592.75" x2="44.5" y2="592.75" stroke="#8a8a8a" stroke-width="1"/>
<text x="36.3" y="597.85" font-size="10" text-anchor="end" fill="#000">700</text>
<line x1="41.5" y1="570.50" x2="44.5" y2="570.50" stroke="#8a8a8a" stroke-width="1"/>
<text x="36.3" y="575.60" font-size="10" text-anchor="end" fill="#000">800</text>
<line x1="44.50" y1="748.5" x2="44.50" y2="751.5" stroke="#8a8a8a" stroke-width="1"/>
<text x="44.50" y="766.80" font-size="10" text-anchor="middle" fill="#000">0.000</text>
<line x1="117.00" y1="748.5" x2="117.00" y2="751.5" stroke="#8a8a8a" stroke-width="1"/>
<text x="117.00" y="766.80" font-size="10" text-anchor="middle" fill="#000">0.003</text>
<line x1="189.50" y1="748.5" x2="189.50" y2="751.5" stroke="#8a8a8a" stroke-width="1"/>
<text x="189.50" y="766.80" font-size="10" text-anchor="middle" fill="#000">0.006</text>
<line x1="262.00" y1="748.5" x2="262.00" y2="751.5" stroke="#8a8a8a" stroke-width="1"/>
<text x="262.00" y="766.80" font-size="10" text-anchor="middle" fill="#000">0.009</text>
<line x1="334.50" y1="748.5" x2="334.50" y2="751.5" stroke="#8a8a8a" stroke-width="1"/>
<text x="334.50" y="766.80" font-size="10" text-anchor="middle" fill="#000">0.012</text>
<line x1="407.00" y1="748.5" x2="407.00" y2="751.5" stroke="#8a8a8a" stroke-width="1"/>
<text x="407.00" y="766.80" font-size="10" text-anchor="middle" fill="#000">0.015</text>
<text x="353.5" y="778.00" font-size="11" fill="#000">Strain</text>
<text transform="translate(8.7,571.50) rotate(-90)" font-size="11" text-anchor="end" fill="#000">Stress [MPa]</text>
<rect x="6" y="792.00" width="394.5" height="14" fill="#fff" stroke="#b4b4b4" stroke-width="1"/>
<line x1="10.00" y1="799.00" x2="23.00" y2="799.00" stroke="#3444b4" stroke-width="1.8"/>
<text x="23.60" y="804.00" font-size="10" fill="#000">923K</text>
<line x1="50.20" y1="799.00" x2="63.20" y2="799.00" stroke="#ff4cff" stroke-width="1.8"/>
<text x="63.80" y="804.00" font-size="10" fill="#000">800K</text>
<line x1="90.40" y1="799.00" x2="103.40" y2="799.00" stroke="#ffff18" stroke-width="1.8"/>
<text x="104.00" y="804.00" font-size="10" fill="#000">700K</text>
<line x1="130.60" y1="799.00" x2="143.60" y2="799.00" stroke="#24f2f6" stroke-width="1.8"/>
<text x="144.20" y="804.00" font-size="10" fill="#000">600K</text>
<line x1="170.80" y1="799.00" x2="183.80" y2="799.00" stroke="#b450b8" stroke-width="1.8"/>
<text x="184.40" y="804.00" font-size="10" fill="#000">500K</text>
<line x1="211.00" y1="799.00" x2="224.00" y2="799.00" stroke="#bc463c" stroke-width="1.8"/>
<text x="224.60" y="804.00" font-size="10" fill="#000">400K</text>
<line x1="251.20" y1="799.00" x2="264.20" y2="799.00" stroke="#34aaaa" stroke-width="1.8"/>
<text x="264.80" y="804.00" font-size="10" fill="#000">293K</text>
<line x1="291.40" y1="799.00" x2="304.40" y2="799.00" stroke="#3a5cfa" stroke-width="1.8"/>
<text x="305.00" y="804.00" font-size="10" fill="#000">200K</text>
<line x1="331.60" y1="799.00" x2="344.60" y2="799.00" stroke="#30d4fa" stroke-width="1.8"/>
<text x="345.20" y="804.00" font-size="10" fill="#000">100K</text>
<line x1="371.80" y1="799.00" x2="384.80" y2="799.00" stroke="#ccffff" stroke-width="1.2"/>
<text x="385.40" y="804.00" font-size="10" fill="#000">4K</text>
</svg></body></html>
